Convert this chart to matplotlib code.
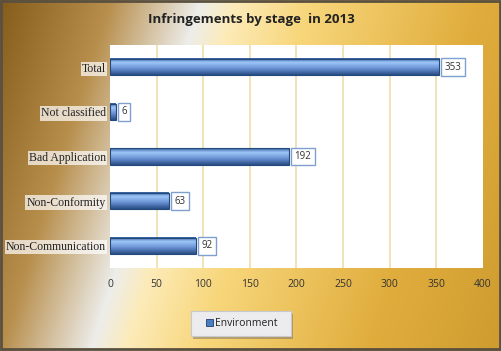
import numpy as np
import matplotlib
matplotlib.use('Agg')
import matplotlib.pyplot as plt
from matplotlib.patches import Rectangle

categories = ['Non-Communication', 'Non-Conformity', 'Bad Application', 'Not classified', 'Total']
values = [92, 63, 192, 6, 353]
xticks = [0, 50, 100, 150, 200, 250, 300, 350, 400]
title = 'Infringements by stage  in 2013'
series_name = 'Environment'

W, H = 502, 351
fig = plt.figure(figsize=(W / 100, H / 100), dpi=100)

# background gradient
bg = fig.add_axes([0, 0, 1, 1])
yy, xx = np.mgrid[0:H, 0:W]
u = xx / W + 0.22 * (yy / H)
stops = [0.0, 0.22, 0.40, 0.47, 0.62, 0.95, 1.25]
cols = np.array([
    [0.52, 0.36, 0.10],
    [0.72, 0.56, 0.30],
    [0.93, 0.93, 0.92],
    [0.99, 0.92, 0.72],
    [0.97, 0.84, 0.48],
    [0.88, 0.68, 0.24],
    [0.80, 0.60, 0.18],
])
img = np.stack([np.interp(u, stops, cols[:, k]) for k in range(3)], axis=-1)
bg.imshow(img, extent=[0, W, H, 0], aspect='auto')
bg.set_xlim(0, W)
bg.set_ylim(H, 0)
bg.axis('off')
bg.add_patch(Rectangle((1, 1), W - 3, H - 3, fill=False, edgecolor='#5a5040', lw=2))

bg.text(W / 2, 20, title, ha='center', va='center', fontsize=9.5, fontweight='bold',
        family='Open Sans', color='#222222')

# legend box
bg.add_patch(Rectangle((193, 314), 100, 25, facecolor='#7a7060', edgecolor='none', alpha=0.5))
bg.add_patch(Rectangle((191, 311), 100, 25, facecolor='#ecebee', edgecolor='#c8c8d0', lw=0.8))
bg.add_patch(Rectangle((206, 319), 7, 7, facecolor='#4a7ec0', edgecolor='#1f3f70', lw=0.6))
bg.text(215, 323, series_name, ha='left', va='center', fontsize=7.5, family='Open Sans', color='#222222')

# plot area
ax = fig.add_axes([110 / W, 1 - 268 / H, (483 - 110) / W, (268 - 45) / H])
ax.set_facecolor('white')
for x in xticks[1:-1]:
    ax.axvline(x, color='#eee0b0', lw=1.3, zorder=0)
for s in ax.spines.values():
    s.set_visible(False)

bh = 0.36
g = np.linspace(0, 1, 50)
shade = np.stack([np.interp(g, [0, 0.25, 0.6, 1], c) for c in
                  ([0.20, 0.62, 0.42, 0.16], [0.36, 0.78, 0.58, 0.30], [0.62, 0.97, 0.84, 0.52])], axis=-1)
shade = shade.reshape(-1, 1, 3)
for i, v in enumerate(values):
    ax.imshow(shade, extent=[0, v, i - bh / 2, i + bh / 2], aspect='auto', zorder=2, origin='upper')
    ax.add_patch(Rectangle((0, i - bh / 2), v, bh, fill=False, edgecolor='#23487a', lw=0.8, zorder=3))
    ax.text(v + 6, i, str(v), ha='left', va='center', fontsize=7, family='Open Sans', color='#333333',
            bbox=dict(boxstyle='square,pad=0.35', facecolor='white', edgecolor='#7f9fcf', lw=1), zorder=4)
ax.set_xlim(0, 400)
ax.set_ylim(-0.5, len(categories) - 0.5)

ax.set_yticks(range(len(categories)))
ax.set_yticklabels(categories, family='Liberation Serif', fontsize=8.5, color='#222222')
for lab in ax.get_yticklabels():
    lab.set_bbox(dict(boxstyle='square,pad=0.1', facecolor='white', edgecolor='none', alpha=0.7))
ax.set_xticks(xticks)
ax.set_xticklabels([str(x) for x in xticks], family='Open Sans', fontsize=7.5, color='#333333')
ax.tick_params(length=0, pad=8)
ax.tick_params(axis='y', pad=3)

fig.savefig('out.png', dpi=100)
